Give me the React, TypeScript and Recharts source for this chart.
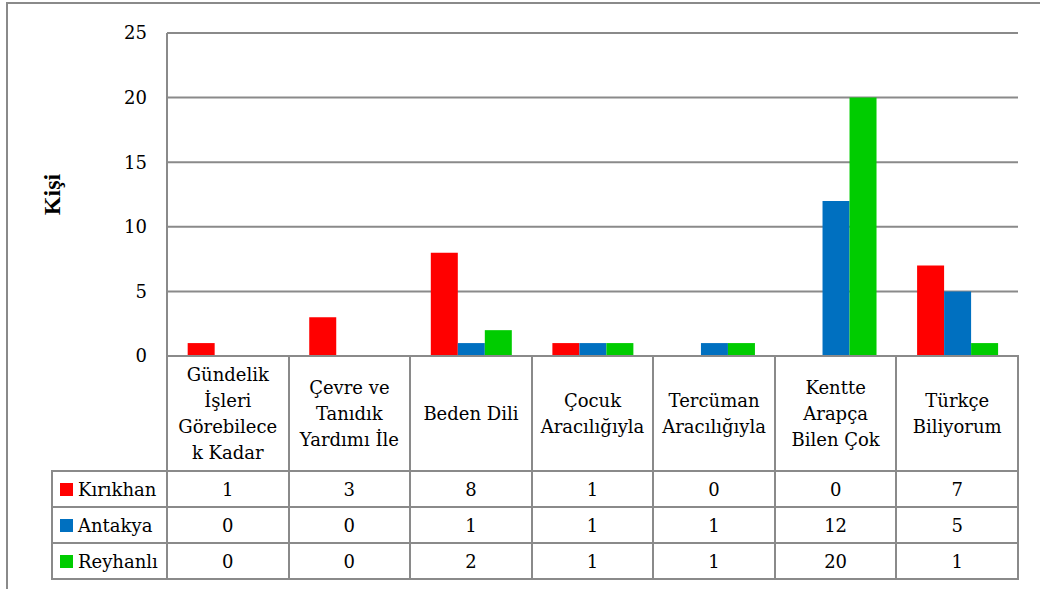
import React from 'react';
import { BarChart, Bar, XAxis, YAxis, CartesianGrid } from 'recharts';

const categories = [
  'Gündelik İşleri Görebilecek Kadar',
  'Çevre ve Tanıdık Yardımı İle',
  'Beden Dili',
  'Çocuk Aracılığıyla',
  'Tercüman Aracılığıyla',
  'Kentte Arapça Bilen Çok',
  'Türkçe Biliyorum'
];
// header lines as wrapped in the data table
const categoryLines = [
  ['Gündelik', 'İşleri', 'Görebilece', 'k Kadar'],
  ['Çevre ve', 'Tanıdık', 'Yardımı İle'],
  ['Beden Dili'],
  ['Çocuk', 'Aracılığıyla'],
  ['Tercüman', 'Aracılığıyla'],
  ['Kentte', 'Arapça', 'Bilen Çok'],
  ['Türkçe', 'Biliyorum']
];
const kirikhan = [1, 3, 8, 1, 0, 0, 7];
const antakya = [0, 0, 1, 1, 1, 12, 5];
const reyhanli = [0, 0, 2, 1, 1, 20, 1];
const yTicks = [0, 5, 10, 15, 20, 25];

const series = [
  { key: 'kirikhan', name: 'Kırıkhan', color: '#FF0000', values: kirikhan },
  { key: 'antakya', name: 'Antakya', color: '#0070C0', values: antakya },
  { key: 'reyhanli', name: 'Reyhanlı', color: '#00CC00', values: reyhanli }
];

const data = categories.map((name, i) => ({
  name,
  kirikhan: kirikhan[i],
  antakya: antakya[i],
  reyhanli: reyhanli[i]
}));

const FONT = 'DejaVu Serif';
const BOLD_FONT = 'Liberation Serif';
const FS = 18;
const LINE = '#8a8a8a';
const W = 1040;
const H = 589;
const PLOT_L = 167;
const PLOT_R = 1018;
const PLOT_T = 33;
const PLOT_B = 356;
const HEAD_B = 471;
const ROW_H = 36;
const LEG_L = 52;
const COL_W = (PLOT_R - PLOT_L) / categories.length;
const TABLE_B = HEAD_B + ROW_H * series.length;

const hLine = (x1: number, x2: number, y: number, k: string) => (
  <div key={k} style={{ position: 'absolute', left: x1 - 1, top: y - 1, width: x2 - x1 + 2, height: 2, background: LINE }} />
);
const vLine = (x: number, y1: number, y2: number, k: string) => (
  <div key={k} style={{ position: 'absolute', left: x - 1, top: y1 - 1, width: 2, height: y2 - y1 + 2, background: LINE }} />
);

const DataTable: React.FC = () => {
  const lines: React.ReactNode[] = [];
  lines.push(hLine(PLOT_L, PLOT_R, PLOT_B, 'h-top'));
  lines.push(hLine(LEG_L, PLOT_R, HEAD_B, 'h-head'));
  series.forEach((_, r) => lines.push(hLine(LEG_L, PLOT_R, HEAD_B + ROW_H * (r + 1), `h-${r}`)));
  lines.push(vLine(LEG_L, HEAD_B, TABLE_B, 'v-leg'));
  for (let c = 0; c <= categories.length; c++) {
    lines.push(vLine(PLOT_L + COL_W * c, PLOT_B, TABLE_B, `v-${c}`));
  }
  return (
    <>
      {lines}
      {categoryLines.map((ls, c) => (
        <div
          key={`hd-${c}`}
          style={{
            position: 'absolute', left: PLOT_L + COL_W * c, top: PLOT_B, width: COL_W, height: HEAD_B - PLOT_B,
            display: 'flex', flexDirection: 'column', justifyContent: 'center', alignItems: 'center',
            fontSize: FS, lineHeight: '26px', textAlign: 'center'
          }}
        >
          {ls.map((l, j) => <div key={j} style={{ whiteSpace: 'nowrap' }}>{l}</div>)}
        </div>
      ))}
      {series.map((s, r) => (
        <React.Fragment key={s.key}>
          <div style={{
            position: 'absolute', left: LEG_L, top: HEAD_B + ROW_H * r, width: PLOT_L - LEG_L, height: ROW_H,
            display: 'flex', alignItems: 'center', fontSize: FS, whiteSpace: 'nowrap'
          }}>
            <span style={{ display: 'inline-block', width: 13, height: 13, background: s.color, marginLeft: 8, marginRight: 5 }} />
            <span>{s.name}</span>
          </div>
          {s.values.map((v, c) => (
            <div key={c} style={{
              position: 'absolute', left: PLOT_L + COL_W * c, top: HEAD_B + ROW_H * r, width: COL_W, height: ROW_H,
              display: 'flex', alignItems: 'center', justifyContent: 'center', fontSize: FS
            }}>{v}</div>
          ))}
        </React.Fragment>
      ))}
    </>
  );
};

export default function App() {
  return (
    <div style={{ position: 'absolute', left: 0, top: 0, width: W, height: H, overflow: 'hidden', background: '#fff', fontFamily: FONT, color: '#000' }}>
      <div style={{ position: 'absolute', left: 6, top: 2, width: W + 20, height: H + 20, borderLeft: `2px solid ${LINE}`, borderTop: `2px solid ${LINE}` }} />
      <div style={{ position: 'absolute', left: 0, top: 0 }}>
        <BarChart
          width={W}
          height={H}
          data={data}
          margin={{ top: PLOT_T, right: W - PLOT_R, bottom: H - PLOT_B, left: 0 }}
          barCategoryGap="17%"
          barGap={0}
        >
          <CartesianGrid vertical={false} stroke={LINE} strokeWidth={2} />
          <XAxis dataKey="name" hide height={0} />
          <YAxis
            width={PLOT_L}
            domain={[0, 25]}
            ticks={yTicks}
            tickLine={false}
            tickSize={0}
            tickMargin={20}
            axisLine={{ stroke: LINE, strokeWidth: 2 }}
            tick={{ fill: '#000', fontSize: FS, style: { fontFamily: FONT } }}
            label={{ value: 'Kişi', angle: -90, position: 'insideLeft', offset: 0, dx: 51, style: { fontWeight: 'bold', fontSize: 24, fontFamily: BOLD_FONT, fill: '#000', textAnchor: 'middle' } }}
          />
          {series.map(s => (
            <Bar key={s.key} dataKey={s.key} name={s.name} fill={s.color} isAnimationActive={false} />
          ))}
        </BarChart>
      </div>
      <DataTable />
    </div>
  );
}
